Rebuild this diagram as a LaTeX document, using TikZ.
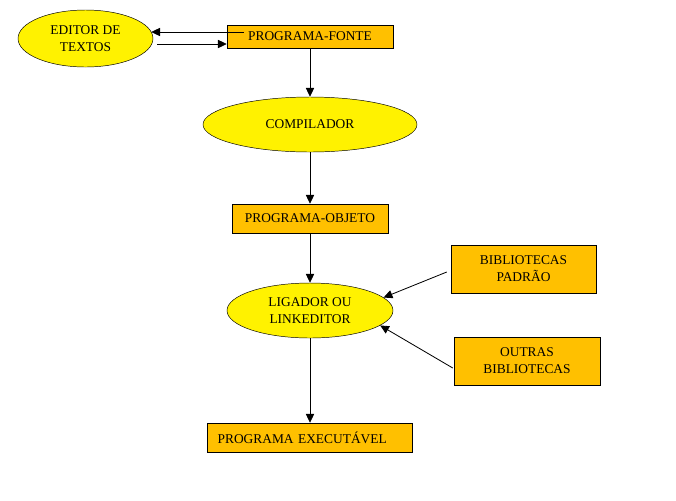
\documentclass[tikz,border=0pt]{standalone}
\usepackage{fontspec}
\setmainfont{Liberation Serif}
\usepackage{tikz}
\usetikzlibrary{arrows.meta, shapes.geometric, calc}

\begin{document}
\begin{tikzpicture}[x=0.85pt, y=-0.85pt,
        font=\fontsize{11.4}{14.5}\selectfont,
        oval/.style={draw, ellipse, fill=yellow, inner sep=0pt, align=center},
        caixa/.style={draw, rectangle, fill={rgb,255:red,255;green,192;blue,0}, inner sep=0pt, align=center},
        seta/.style={line width=0.7pt, -{Triangle[length=7.5pt, width=7pt]}}]
        \useasboundingbox[fill=white] (0,0) rectangle (676,500);

        \node[oval, minimum width=114.75pt, minimum height=48.45pt] (editor) at (85.5,38.5) {EDITOR DE\\TEXTOS};
        \node[caixa, minimum width=141.1pt, minimum height=19.55pt] (fonte) at (310,36.5) {PROGRAMA-FONTE};
        \node[oval, minimum width=181.9pt, minimum height=46.75pt] (comp) at (310,124.5) {COMPILADOR};
        \node[caixa, minimum width=132.6pt, minimum height=24.65pt] (objeto) at (310,218.5) {PROGRAMA-OBJETO};
        \node[oval, minimum width=141.1pt, minimum height=46.75pt] (lig) at (310,310.5) {LIGADOR OU\\LINKEDITOR};
        \node[caixa, minimum width=123.25pt, minimum height=40.8pt] (padrao) at (523.5,269) {BIBLIOTECAS\\PADRÃO};
        \node[caixa, minimum width=124.1pt, minimum height=40.8pt] (outras) at (527,361) {OUTRAS\\BIBLIOTECAS};
        \node[caixa, minimum width=174.25pt, minimum height=24.65pt, text width=157pt, align=left] (exec) at (310,437.5) {PROGRAMA EXECUTÁVEL};

        \draw[seta] ($(fonte.west)+(17,-4.5)$) -- ($(editor.east)+(-2,-6.5)$);
        \draw[seta] ($(editor.east)+(4,5.5)$) -- ($(fonte.west)+(0,7.5)$);
        \draw[seta] (fonte.south) -- (comp.north);
        \draw[seta] (comp.south) -- (objeto.north);
        \draw[seta] (objeto.south) -- (lig.north);
        \draw[seta] (lig.south) -- (exec.north);
        \draw[seta] ($(padrao.west)+(-4,3)$) -- (lig.10);
        \draw[seta] ($(outras.west)+(-1,7)$) -- (lig.-12);
    \end{tikzpicture}
\end{document}
